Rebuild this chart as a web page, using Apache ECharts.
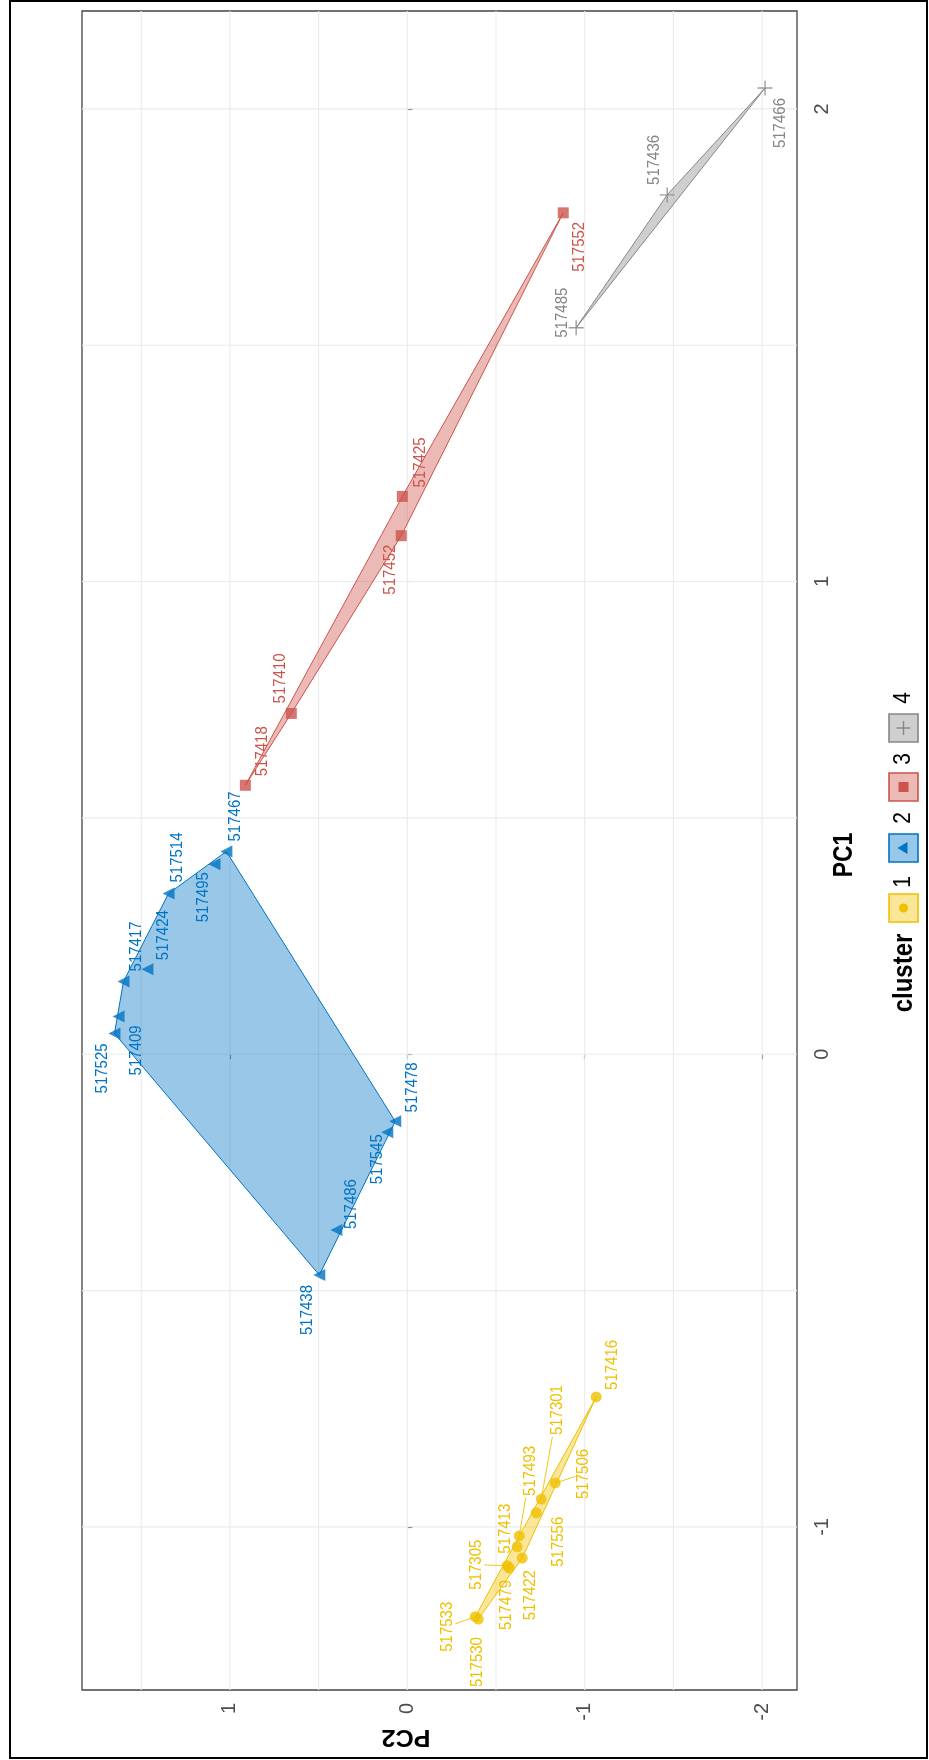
<!DOCTYPE html>
<html>
<head>
<meta charset="utf-8">
<script src="https://cdn.jsdelivr.net/npm/echarts@6/dist/echarts.min.js"></script>
<style>
html,body{margin:0;padding:0;background:#fff;}
#chart{width:929px;height:1760px;}
</style>
</head>
<body>
<div id="chart"></div>
<script>
// ---------------- data ----------------
const sampleIds = ['517466','517436','517485',
  '517552','517425','517452','517410','517418',
  '517467','517495','517514','517424','517417','517409','517525','517478','517545','517486','517438',
  '517416','517301','517506','517556','517493','517413','517422','517305','517479','517533','517530'];
const clusterOf = [4,4,4, 3,3,3,3,3, 2,2,2,2,2,2,2,2,2,2,2, 1,1,1,1,1,1,1,1,1,1,1];
const pc1Values = [2.044,1.818,1.537,
  1.780,1.180,1.097,0.721,0.569,
  0.429,0.402,0.340,0.180,0.154,0.080,0.044,-0.142,-0.165,-0.372,-0.467,
  -0.725,-0.941,-0.907,-0.970,-1.019,-1.042,-1.066,-1.082,-1.087,-1.190,-1.195];
const pc2Values = [-2.017,-1.465,-0.952,
  -0.879,0.028,0.034,0.654,0.913,
  1.020,1.087,1.346,1.465,1.600,1.628,1.651,0.068,0.113,0.400,0.496,
  -1.065,-0.755,-0.834,-0.727,-0.631,-0.619,-0.648,-0.563,-0.575,-0.383,-0.400];
const clusterNames = ['1','2','3','4'];
const pc1Ticks = [-1,0,1,2];
const pc2Ticks = [-2,-1,0,1];
const pc1Minor = [-0.5,0.5,1.5];
const pc2Minor = [-1.5,-0.5,0.5,1.5];

// ---------------- layout / style ----------------
const FONT = '"Liberation Sans", Arial, Helvetica, sans-serif';
const clusterColors = {1:'#EFC000',2:'#0073C2',3:'#CD534C',4:'#868686'};
function rgba(hex,a){const n=parseInt(hex.slice(1),16);return 'rgba('+((n>>16)&255)+','+((n>>8)&255)+','+(n&255)+','+a+')';}
// label placement (screen pixel offsets from the point, like ggrepel), and whether a segment is drawn
const labelOffsets = {
  '517466':[15,35],'517436':[-13,-35],'517485':[-14,-15],
  '517552':[16,34],'517425':[18,-34],'517452':[-11,34],'517410':[-11,-35],'517418':[17,-34],
  '517467':[9,-35],'517495':[-11,33],'517514':[9,-36],'517424':[16,-34],'517417':[13,-35],
  '517409':[18,34],'517525':[-12,35],'517478':[17,-34],'517545':[-10,27],'517486':[15,-26],'517438':[-12,35],
  '517416':[16,-32],'517301':[16,-89],'517506':[28,-9],'517556':[22,29],'517493':[11,-65],
  '517413':[-12,-18],'517422':[8,37],'517305':[-31,-1],'517479':[-3,37],'517533':[-28,10],'517530':[-1,43]
};
const segmentLabels = ['517301','517506','517493','517305','517533'];

function convexHull(points){
  const pts = points.slice().sort((a,b)=>a[0]-b[0]||a[1]-b[1]);
  const cross=(o,a,b)=>(a[0]-o[0])*(b[1]-o[1])-(a[1]-o[1])*(b[0]-o[0]);
  const lower=[];
  for(const p of pts){while(lower.length>=2&&cross(lower[lower.length-2],lower[lower.length-1],p)<=0)lower.pop();lower.push(p);}
  const upper=[];
  for(let i=pts.length-1;i>=0;i--){const p=pts[i];while(upper.length>=2&&cross(upper[upper.length-2],upper[upper.length-1],p)<=0)upper.pop();upper.push(p);}
  upper.pop();lower.pop();
  return lower.concat(upper);
}

const chart = echarts.init(document.getElementById('chart'), null, {renderer:'canvas'});

const gridSpec = [];
pc2Ticks.forEach(v=>gridSpec.push([0,v]));
pc2Minor.forEach(v=>gridSpec.push([0,v]));
pc1Ticks.forEach(v=>gridSpec.push([1,v]));
pc1Minor.forEach(v=>gridSpec.push([1,v]));

const symbolFor = {1:'circle',2:'triangle',3:'rect',4:'path://M0,6L12,6M6,0L6,12'};
const symbolSizeFor = {1:11,2:12,3:11,4:15};

const scatterSeries = [1,2,3,4].map(c=>{
  const data=[];
  sampleIds.forEach((id,i)=>{ if(clusterOf[i]===c) data.push([pc2Values[i],pc1Values[i]]); });
  return {
    type:'scatter', name:clusterNames[c-1], z:3, silent:true, data,
    symbol:symbolFor[c], symbolSize:symbolSizeFor[c],
    symbolRotate: c===2 ? 90 : 0,
    itemStyle: c===4 ? {color:'none', borderColor:clusterColors[4], borderWidth:1.4} : {color:clusterColors[c]},
    emphasis:{disabled:true}
  };
});

const option = {
  animation:false,
  backgroundColor:'#ffffff',
  grid:{left:82,right:132,top:11,bottom:70,show:true,borderColor:'#444',borderWidth:1.3,backgroundColor:'transparent',containLabel:false,outerBoundsMode:'none'},
  xAxis:{
    type:'value', min:-2.197, max:1.834, inverse:true, splitNumber:4,
    axisLine:{show:false},
    axisTick:{show:true,length:5,lineStyle:{color:'#333',width:1.1},customValues:pc2Ticks},
    axisLabel:{customValues:pc2Ticks,rotate:90,margin:13,color:'#4D4D4D',fontSize:20,fontFamily:FONT},
    splitLine:{show:false}
  },
  yAxis:{
    type:'value', position:'right', min:-1.345, max:2.207, splitNumber:4,
    axisLine:{show:false},
    axisTick:{show:true,length:5,lineStyle:{color:'#333',width:1.1},customValues:pc1Ticks},
    axisLabel:{customValues:pc1Ticks,rotate:90,margin:15,color:'#4D4D4D',fontSize:20,fontFamily:FONT},
    splitLine:{show:false}
  },
  series:[
    { // grid lines
      type:'custom', z:1, silent:true, clip:false, data:gridSpec,
      renderItem:function(params,api){
        const cs=params.coordSys; const kind=api.value(0), v=api.value(1);
        let shape;
        if(kind===0){const x=api.coord([v,0])[0]; shape={x1:x,y1:cs.y,x2:x,y2:cs.y+cs.height};}
        else {const y=api.coord([0,v])[1]; shape={x1:cs.x,y1:y,x2:cs.x+cs.width,y2:y};}
        return {type:'line',shape,style:{stroke:'#EBEBEB',lineWidth:1.1}};
      }
    },
    { // convex hulls
      type:'custom', z:2, silent:true, clip:true, data:[[1,0],[2,0],[3,0],[4,0]],
      renderItem:function(params,api){
        const c=api.value(0);
        const pts=[];
        sampleIds.forEach((id,i)=>{ if(clusterOf[i]===c) pts.push(api.coord([pc2Values[i],pc1Values[i]])); });
        const h=convexHull(pts);
        return {type:'polygon',shape:{points:h},style:{fill:rgba(clusterColors[c],0.4),stroke:clusterColors[c],lineWidth:1}};
      }
    },
    ...scatterSeries,
    { // point labels
      type:'custom', z:4, silent:true, clip:false,
      data: sampleIds.map((id,i)=>[pc2Values[i],pc1Values[i],i]),
      renderItem:function(params,api){
        const p=api.coord([api.value(0),api.value(1)]);
        const i=api.value(2); const id=sampleIds[i]; const col=clusterColors[clusterOf[i]];
        const off=labelOffsets[id]||[0,0];
        const cx=p[0]+off[0], cy=p[1]+off[1];
        const children=[];
        if(segmentLabels.indexOf(id)>=0){
          const dx=p[0]-cx, dy=p[1]-cy;
          const hw=8, hh=27;
          const t=Math.min(dx!==0?hw/Math.abs(dx):Infinity, dy!==0?hh/Math.abs(dy):Infinity);
          if(t<1){
            children.push({type:'line',shape:{x1:cx+dx*t,y1:cy+dy*t,x2:p[0],y2:p[1]},style:{stroke:col,lineWidth:0.9}});
          }
        }
        children.push({type:'text',x:cx,y:cy,rotation:Math.PI/2,scaleY:1.08,
          style:{text:id,fill:col,font:'15px '+FONT,align:'center',verticalAlign:'middle'}});
        return {type:'group',children};
      }
    }
  ],
  graphic:[
    {type:'rect',silent:true,z:100,shape:{x:10,y:1,width:917,height:1757},style:{fill:'none',stroke:'#000',lineWidth:2}},
    {type:'text',silent:true,x:845,y:855,rotation:Math.PI/2,scaleY:1.18,style:{text:'PC1',fill:'#000',font:'bold 23px '+FONT,align:'center',verticalAlign:'middle'}},
    {type:'text',silent:true,x:406,y:1737,rotation:Math.PI,scaleX:1.05,style:{text:'PC2',fill:'#000',font:'bold 24px '+FONT,align:'center',verticalAlign:'middle'}},
    {type:'text',silent:true,x:904,y:973,rotation:Math.PI/2,scaleY:1.18,style:{text:'cluster',fill:'#000',font:'bold 24px '+FONT,align:'center',verticalAlign:'middle'}},
    // legend keys
    ...[[1,908,882],[2,848,818],[3,787,759],[4,728,698]].flatMap(([c,ky,ly])=>{
      const col=clusterColors[c]; const cx=903.5;
      const els=[{type:'rect',silent:true,shape:{x:889,y:ky-14,width:29,height:28},style:{fill:rgba(col,0.4),stroke:col,lineWidth:1.6}}];
      if(c===1) els.push({type:'circle',silent:true,shape:{cx:cx,cy:ky,r:4.5},style:{fill:col}});
      if(c===2) els.push({type:'polygon',silent:true,shape:{points:[[cx-6,ky],[cx+4,ky-6],[cx+4,ky+6]]},style:{fill:col}});
      if(c===3) els.push({type:'rect',silent:true,shape:{x:cx-5,y:ky-5,width:10,height:10},style:{fill:col}});
      if(c===4){
        els.push({type:'line',silent:true,shape:{x1:cx-7,y1:ky,x2:cx+7,y2:ky},style:{stroke:col,lineWidth:1.4}});
        els.push({type:'line',silent:true,shape:{x1:cx,y1:ky-7,x2:cx,y2:ky+7},style:{stroke:col,lineWidth:1.4}});
      }
      els.push({type:'text',silent:true,x:cx,y:ly,rotation:Math.PI/2,scaleY:1.15,style:{text:clusterNames[c-1],fill:'#000',font:'21px '+FONT,align:'center',verticalAlign:'middle'}});
      return els;
    })
  ]
};
chart.setOption(option);
</script>
</body>
</html>
